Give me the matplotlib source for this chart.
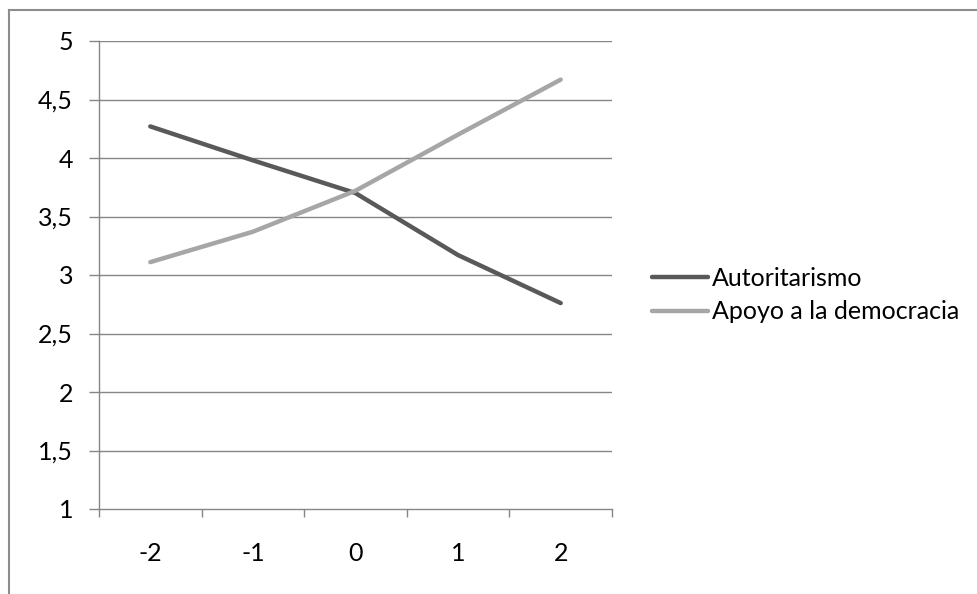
import matplotlib
matplotlib.use("Agg")
import matplotlib.pyplot as plt
from matplotlib.lines import Line2D
import numpy as np

categories = ["-2", "-1", "0", "1", "2"]
autoritarismo = [4.27, 3.98, 3.70, 3.17, 2.76]
apoyo = [3.11, 3.37, 3.72, 4.20, 4.67]
yticks = [1, 1.5, 2, 2.5, 3, 3.5, 4, 4.5, 5]
ytick_labels = ["1", "1,5", "2", "2,5", "3", "3,5", "4", "4,5", "5"]

plt.rcParams['font.family'] = ['Lato', 'DejaVu Sans']

W, H = 978, 594
fs = 18
fig = plt.figure(figsize=(W / 100, H / 100), dpi=100)
ax = fig.add_axes([99 / W, (H - 509) / H, 513 / W, 468 / H])

grid_c = "#868686"
x = np.arange(len(categories))
ax.plot(x, autoritarismo, color="#595959", lw=3.2, solid_capstyle="round",
        solid_joinstyle="round", label="Autoritarismo", zorder=3)
ax.plot(x, apoyo, color="#A6A6A6", lw=3.2, solid_capstyle="round",
        solid_joinstyle="round", label="Apoyo a la democracia", zorder=3)

ax.set_xlim(-0.5, len(categories) - 0.5)
ax.set_ylim(1, 5)
ax.set_yticks(yticks)
ax.set_yticklabels(ytick_labels)
ax.set_xticks(x)
ax.set_xticklabels(categories)
ax.set_xticks(np.arange(len(categories) + 1) - 0.5, minor=True)
ax.tick_params(axis="x", which="major", length=0, pad=24, labelsize=fs)
ax.tick_params(axis="x", which="minor", length=6, color=grid_c, width=1)
ax.tick_params(axis="y", which="major", length=7.2, color=grid_c, width=1, pad=11.5, labelsize=fs)

for yv in yticks[1:]:
    ax.axhline(yv, color=grid_c, lw=1, zorder=1)

for s in ["top", "right"]:
    ax.spines[s].set_visible(False)
for s in ["left", "bottom"]:
    ax.spines[s].set_color(grid_c)
    ax.spines[s].set_linewidth(1)

leg = ax.legend(loc="center left", bbox_to_anchor=((652 - 99) / 513, (509 - 295) / 468),
                frameon=False, borderpad=0, borderaxespad=0,
                handlelength=56 / (fs * 100 / 72), handletextpad=4 / (fs * 100 / 72),
                fontsize=fs, labelspacing=0.42)

# outer chart border (top and left visible)
fig.add_artist(Line2D([9 / W, 1], [1 - 10 / H, 1 - 10 / H], color="#8c8c8c", lw=1.5,
                      transform=fig.transFigure))
fig.add_artist(Line2D([9 / W, 9 / W], [0, 1 - 10 / H], color="#8c8c8c", lw=1.5,
                      transform=fig.transFigure))

fig.savefig("out.png", dpi=100, facecolor="white")
